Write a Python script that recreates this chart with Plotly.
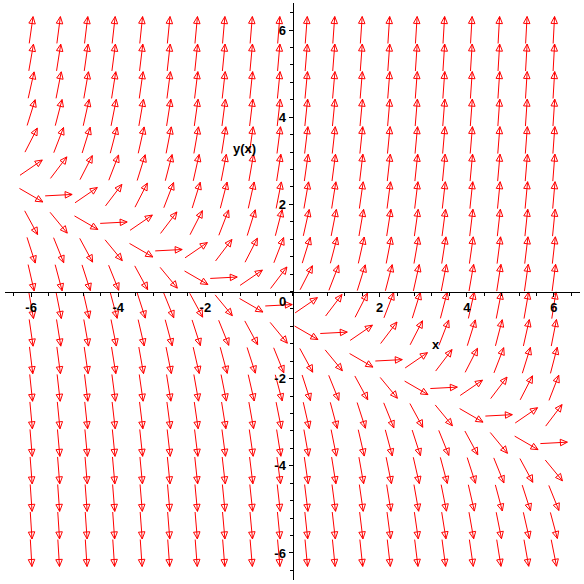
import numpy as np
import plotly.graph_objects as go

# Direction field of  dy/dx = x + 2*y + 1  on a 20 x 20 grid over [-6,6] x [-6,6]
x_grid = [-6.0, -5.3684, -4.7368, -4.1053, -3.4737, -2.8421, -2.2105, -1.5789, -0.9474, -0.3158,
          0.3158, 0.9474, 1.5789, 2.2105, 2.8421, 3.4737, 4.1053, 4.7368, 5.3684, 6.0]
y_grid = [-6.0, -5.3684, -4.7368, -4.1053, -3.4737, -2.8421, -2.2105, -1.5789, -0.9474, -0.3158,
          0.3158, 0.9474, 1.5789, 2.2105, 2.8421, 3.4737, 4.1053, 4.7368, 5.3684, 6.0]
ode_coeffs = {"x": 1.0, "y": 2.0, "c": 1.0}   # dy/dx = 1*x + 2*y + 1

tick_vals = [-6, -4, -2, 2, 4, 6]
tick_text = ["-6", "-4", "-2", "2", "4", "6"]
x_label = "x"
y_label = "y(x)"

ARROW_LEN = 0.62
HEAD_LEN = 0.16
HEAD_HALF = 0.075

px, py = [], []
for xv in x_grid:
    for yv in y_grid:
        f = ode_coeffs["x"] * xv + ode_coeffs["y"] * yv + ode_coeffs["c"]
        d = np.array([1.0, f])
        d /= np.linalg.norm(d)
        n = np.array([-d[1], d[0]])
        c = np.array([xv, yv])
        tail = c - d * ARROW_LEN / 2
        tip = c + d * ARROW_LEN / 2
        base = tip - d * HEAD_LEN
        l = base + n * HEAD_HALF
        r = base - n * HEAD_HALF
        for p in (tail, tip, l, r, tip):
            px.append(p[0]); py.append(p[1])
        px.append(None); py.append(None)

fig = go.Figure()
fig.add_trace(go.Scatter(x=px, y=py, mode="lines",
                         line=dict(color="#ff0000", width=1),
                         hoverinfo="skip", showlegend=False))

font = dict(family="Liberation Sans, Arial, sans-serif", size=13, color="black", weight="bold")

axis_common = dict(
    showgrid=False, zeroline=False, showline=True, linecolor="black", linewidth=1,
    anchor="free", position=0.5, ticks="outside", ticklen=4, tickcolor="black",
    tickmode="array", tickvals=tick_vals, ticktext=tick_text, tickfont=font,
    minor=dict(dtick=0.4, tick0=0, ticks="outside", ticklen=3, tickcolor="black", showgrid=False),
    automargin=False,
)
fig.update_layout(
    width=584, height=584,
    margin=dict(l=5, r=4, t=3, b=4),
    template="none",
    paper_bgcolor="white", plot_bgcolor="white",
    xaxis=dict(range=[-6.6, 6.6], **axis_common),
    yaxis=dict(range=[-6.62, 6.62], **axis_common),
)
fig.add_annotation(x=-0.24, y=-0.22, xref="x", yref="y", text="0", showarrow=False, font=font)
fig.add_annotation(x=3.30, y=-1.22, xref="x", yref="y", text=x_label, showarrow=False, font=font)
fig.add_annotation(x=-1.10, y=3.28, xref="x", yref="y", text=y_label, showarrow=False, font=font)

fig.write_html("out.html", config={"displayModeBar": False},
               post_script="document.body.style.margin='0';document.body.style.padding='0';")
